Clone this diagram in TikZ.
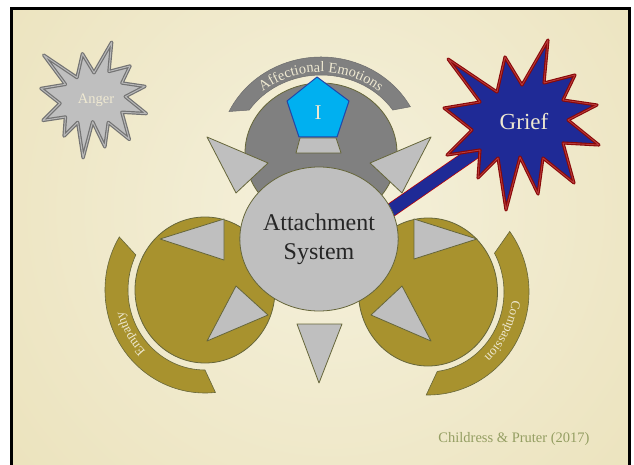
\documentclass[tikz,border=0pt]{standalone}
\usepackage{fontspec}
\setmainfont{Liberation Serif}
\usetikzlibrary{shapes.geometric,decorations.text}
\definecolor{parchA}{HTML}{F5F1DC}
\definecolor{parchB}{HTML}{E9DFB5}
\definecolor{olivefill}{HTML}{A8922E}
\definecolor{oliveline}{HTML}{66663A}
\definecolor{topgray}{HTML}{808080}
\definecolor{trigray}{HTML}{BFBFBF}
\definecolor{bandtext}{HTML}{EFE9D2}
\definecolor{griefblue}{HTML}{1F2A96}
\definecolor{griefred}{HTML}{880808}
\definecolor{griefred2}{HTML}{B83A3A}
\definecolor{pentblue}{HTML}{00B0F0}
\definecolor{pentline}{HTML}{2346A8}
\definecolor{credit}{HTML}{949E62}
\definecolor{atttext}{HTML}{262626}
\tikzset{
  tri/.style={fill=trigray, draw=oliveline, line width=0.8pt, line join=round},
  oliveband/.style={fill=olivefill, draw=oliveline, line width=0.6pt},
  graybandst/.style={fill=topgray, draw=topgray!85!black, line width=0.5pt},
  burst/.pic={
    \path[pic actions] (-74,-66) -- (-25,-33) -- (-17,-68) -- (0,-40) -- (26,-85) -- (22,-42)
      -- (53,-50) -- (41,-25) -- (75,-20) -- (46,-5) -- (77,20) -- (41,18) -- (52,58)
      -- (21,33) -- (16,69) -- (-2,32) -- (-16,85) -- (-24,33) -- (-44,53) -- (-42,25)
      -- (-75,30) -- (-50,5) -- (-78,-17) -- (-42,-23) -- cycle;
  }
}
\begin{document}
\begin{tikzpicture}[x=1pt,y=-1pt]
\useasboundingbox (0,0) rectangle (634,465);
% page and frame
\fill[white] (0,0) rectangle (634,465);
\begin{scope}
  \clip (13,10) rectangle (628,470);
  \fill[parchB] (13,10) rectangle (628,470);
  \shade[inner color=parchA, outer color=parchB] (330,210) circle[radius=520];
\end{scope}
\draw[black, line width=3pt] (11.5,475) -- (11.5,8.5) -- (629.5,8.5) -- (629.5,475);

\coordinate (T) at (321,153);
\coordinate (L) at (205,290);
\coordinate (R) at (428,292);

% bands
\draw[graybandst] (T) ++(-154.4:102 and 96) arc[start angle=-154.4, end angle=-28.8, x radius=102, y radius=96]
   -- ([shift={(321,153)}]-33.4:86 and 78) arc[start angle=-33.4, end angle=-146.6, x radius=86, y radius=78] -- cycle;
\draw[oliveband] (L) ++(211:100 and 103) arc[start angle=211, end angle=84, x radius=100, y radius=103]
   -- ([shift={(205,290)}]90:77 and 80) arc[start angle=90, end angle=206, x radius=77, y radius=80] -- cycle;
\draw[oliveband] (R) ++(-36:101 and 103) arc[start angle=-36, end angle=91, x radius=101, y radius=103]
   -- ([shift={(428,292)}]83:76 and 80) arc[start angle=83, end angle=-29, x radius=76, y radius=80] -- cycle;

% band texts
\path[decorate, decoration={text along path, text align=center,
   text={|\fontsize{14.5}{14.5}\selectfont\color{bandtext}|Affectional Emotions}}]
   (T) ++(-170:89 and 81) arc[start angle=-170, end angle=-10, x radius=89, y radius=81];
\path[decorate, decoration={text along path, text align=center,
   text={|\fontsize{13}{13}\selectfont\color{bandtext}|Empathy}}]
   (L) ++(100:84 and 87) arc[start angle=100, end angle=200, x radius=84, y radius=87];
\path[decorate, decoration={text along path, text align=center,
   text={|\fontsize{13}{13}\selectfont\color{bandtext}|Compassion}}]
   (R) ++(-23:84 and 87) arc[start angle=-23, end angle=77, x radius=84, y radius=87];

% circles
\node[ellipse, inner sep=0pt, minimum width=152pt, minimum height=140pt, fill=topgray, draw=oliveline, line width=0.8pt] (topc) at (T) {};
\node[ellipse, inner sep=0pt, minimum width=140pt, minimum height=146pt, fill=olivefill, draw=oliveline, line width=0.8pt] (leftc) at (L) {};
\node[ellipse, inner sep=0pt, minimum width=139pt, minimum height=148pt, fill=olivefill, draw=oliveline, line width=0.8pt] (rightc) at (R) {};

% pentagon and base
\draw[fill=trigray, draw=oliveline, line width=0.8pt, line join=round] (300,138) -- (336,138) -- (341,153) -- (296,153) -- cycle;
\draw[fill=pentblue, draw=pentline, line width=1pt, line join=round] (317,77) -- (349,101) -- (337,137) -- (299,137) -- (287,101) -- cycle;
\node[text=bandtext, font=\fontsize{21}{21}\selectfont, inner sep=0pt] (ego) at (318,113) {I};

% grief connector
\coordinate (barA) at (384,215);
\coordinate (griefc) at (522,125);
\coordinate (barB) at (478,150);
\draw[line width=14pt, draw=red!75!black] (barA) -- (barB);
\draw[line width=12.6pt, draw=griefblue] (barA) -- (barB);

% attachment
\node[ellipse, inner sep=0pt, minimum width=158pt, minimum height=144pt, fill=trigray, draw=oliveline, line width=0.8pt,
      align=center, text=atttext, font=\fontsize{24}{29}\selectfont] (att) at (319,239) {Attachment\\System};

% triangles
\draw[tri] (207,137) -- (268,163) -- (236,193) -- cycle;
\draw[tri] (431,137) -- (370,163) -- (402,193) -- cycle;
\draw[tri] (160,239) -- (224,219) -- (224,260) -- cycle;
\draw[tri] (236,286) -- (268,315) -- (207,341) -- cycle;
\draw[tri] (414,219) -- (477,239) -- (414,259) -- cycle;
\draw[tri] (402,286) -- (371,315) -- (431,341) -- cycle;
\draw[tri] (297,324) -- (342,324) -- (319,383) -- cycle;

% grief star
\pic[fill=griefblue, draw=griefred, double=griefred2, double distance=0.9pt, line width=1.1pt, line join=round] at (griefc) {burst};
\node[text=bandtext, font=\fontsize{23}{23}\selectfont, inner sep=0pt] (grief) at (524,122) {Grief};

% anger star
\pic[scale=0.68, fill=trigray, draw=gray!90!black, double=gray!55, double distance=1pt, line width=1.2pt, line join=round] at (94,100) {burst};
\node[text=bandtext, font=\fontsize{14.5}{14.5}\selectfont, inner sep=0pt] (anger) at (96,100) {Anger};

% credit
\node[text=credit, font=\fontsize{14.5}{14.5}\selectfont, inner sep=0pt, anchor=base] (credit) at (514,442) {Childress \& Pruter (2017)};
\end{tikzpicture}
\end{document}
